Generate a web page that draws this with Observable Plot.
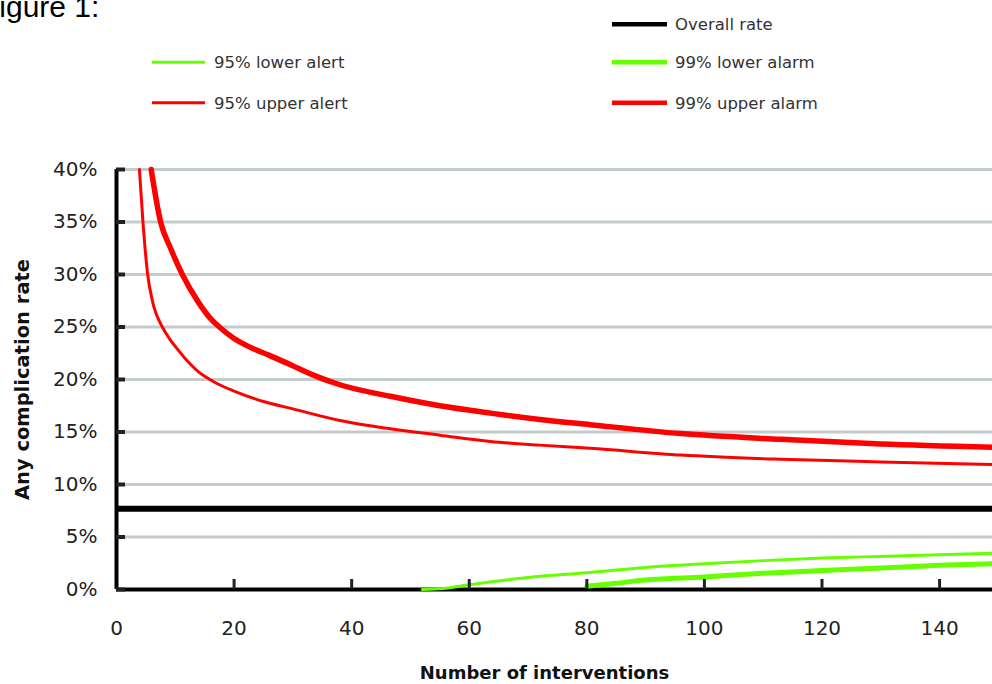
<!DOCTYPE html>
<html>
<head>
<meta charset="utf-8">
<script src="https://cdn.jsdelivr.net/npm/d3@7"></script>
<script src="https://cdn.jsdelivr.net/npm/@observablehq/plot@0.6"></script>
<style>
html, body { margin: 0; padding: 0; background: #fff; overflow: hidden; }
#wrap { position: relative; width: 992px; height: 684px; }
#wrap svg { position: absolute; left: 0; top: 0; }
</style>
</head>
<body>
<div id="wrap"></div>
<script>
// ---- data (rates in %) ----
const xTickValues = [0, 20, 40, 60, 80, 100, 120, 140];
const yTickValues = [0, 5, 10, 15, 20, 25, 30, 35, 40];
const overallRate = 7.7;
const upperAlarm99 = [[5.9,40],[7.5,35],[9.2,32.5],[11.2,30],[14,27.3],[16,25.8],[17.5,25],[20,23.9],[23,23.0],[26,22.3],[29.6,21.4],[34,20.3],[38,19.5],[46.6,18.4],[55,17.5],[63.6,16.8],[72,16.2],[80.6,15.7],[96,14.85],[113,14.3],[130,13.85],[149,13.55]];
const upperAlert95 = [[3.9,40],[4.5,35],[5.3,30],[6.1,27.5],[7.8,25],[9,23.9],[10.5,22.8],[12.5,21.5],[14,20.7],[15.6,20.1],[17.5,19.5],[20,18.9],[25,17.9],[30,17.2],[38,16.1],[46.6,15.3],[55,14.7],[63.6,14.1],[72,13.75],[80.6,13.45],[96,12.8],[113,12.4],[130,12.15],[149,11.9]];
const lowerAlert95 = [[52,0],[55.5,0.1],[60,0.45],[70,1.15],[80,1.6],[90,2.1],[100,2.45],[110,2.75],[120,3.0],[130,3.15],[140,3.3],[149,3.45]];
const lowerAlarm99 = [[80,0.3],[85,0.6],[90,0.9],[100,1.2],[110,1.55],[120,1.8],[130,2.05],[140,2.3],[149,2.45]];
const legendItems = [
  {label: "Overall rate", color: "#000000", width: 4.5, col: 1, row: 0},
  {label: "95% lower alert", color: "#66ff00", width: 3, col: 0, row: 1},
  {label: "99% lower alarm", color: "#66ff00", width: 4.5, col: 1, row: 1},
  {label: "95% upper alert", color: "#ff0000", width: 3, col: 0, row: 2},
  {label: "99% upper alarm", color: "#ff0000", width: 4.5, col: 1, row: 2}
];
const xTitle = "Number of interventions";
const yTitle = "Any complication rate";
const figTitle = "Figure 1:";

const gridColor = "#c3cccb";
const red = "#ff0000", green = "#66ff00";

const chart = Plot.plot({
  width: 992,
  height: 684,
  marginTop: 169,
  marginBottom: 95,
  marginLeft: 116,
  marginRight: 0,
  x: {domain: [0, 149]},
  y: {domain: [0, 40]},
  style: {fontFamily: "'DejaVu Sans', sans-serif", fontSize: "20px", color: "#222", background: "transparent"},
  marks: [
    Plot.ruleY(yTickValues.filter(d => d > 0), {stroke: gridColor, strokeWidth: 3}),
    Plot.ruleY([overallRate], {stroke: "#000", strokeWidth: 6}),
    Plot.ruleX([0], {y1: 0, y2: 40, stroke: "#000", strokeWidth: 4}),
    Plot.ruleY([0], {stroke: "#000", strokeWidth: 4}),
    Plot.line(upperAlert95, {x: d => d[0], y: d => d[1], stroke: red, strokeWidth: 3, curve: "monotone-x"}),
    Plot.line(upperAlarm99, {x: d => d[0], y: d => d[1], stroke: red, strokeWidth: 5.5, curve: "monotone-x"}),
    Plot.line(lowerAlert95, {x: d => d[0], y: d => d[1], stroke: green, strokeWidth: 3, curve: "monotone-x"}),
    Plot.line(lowerAlarm99, {x: d => d[0], y: d => d[1], stroke: green, strokeWidth: 5, curve: "monotone-x"}),
    // inward tick marks
    Plot.axisY({ticks: yTickValues, tickSize: 9, dx: 9, strokeWidth: 4, tickFormat: () => "", label: null}),
    Plot.axisX({ticks: xTickValues.filter(d => d > 0), tickSize: 10, dy: -10, strokeWidth: 3, tickFormat: () => "", label: null}),
    // tick labels
    Plot.axisY({ticks: yTickValues, tickSize: 0, tickPadding: 19, tickFormat: d => d + "%", label: null, fill: "#222"}),
    Plot.axisX({ticks: xTickValues, tickSize: 0, tickPadding: 31, tickFormat: d => String(d), label: null, fill: "#222"}),
    // axis titles
    Plot.text([yTitle], {text: d => d, frameAnchor: "left", textAnchor: "middle", dx: -94, rotate: -90, lineAnchor: "middle", fontWeight: "bold", fontSize: 19.5, fill: "#111"}),
    Plot.text([xTitle], {text: d => d, frameAnchor: "bottom", textAnchor: "middle", dx: -10, dy: 84, lineAnchor: "middle", fontWeight: "bold", fontSize: 18, fill: "#111"})
  ]
});

const wrap = document.getElementById("wrap");
wrap.appendChild(chart);

// title + legend overlay
const colX = [152, 612], lineLen = [53, 55], textX = [214, 675];
const rowY = [24.3, 62.3, 102.7];
const header = d3.create("svg").attr("width", 992).attr("height", 140);
header.append("text")
  .attr("x", -19).attr("y", 17)
  .attr("font-family", "'Liberation Sans', Arial, sans-serif")
  .attr("font-size", 30)
  .attr("fill", "#000")
  .text(figTitle);
const items = header.selectAll("g.item").data(legendItems).join("g").attr("class", "item");
items.append("line")
  .attr("x1", d => colX[d.col]).attr("x2", d => colX[d.col] + lineLen[d.col])
  .attr("y1", d => rowY[d.row]).attr("y2", d => rowY[d.row])
  .attr("stroke", d => d.color).attr("stroke-width", d => d.width);
items.append("text")
  .attr("x", d => textX[d.col]).attr("y", d => rowY[d.row] + 6)
  .attr("font-family", "'DejaVu Sans', sans-serif")
  .attr("font-size", 16.5)
  .attr("fill", "#333")
  .text(d => d.label);
wrap.appendChild(header.node());
</script>
</body>
</html>
